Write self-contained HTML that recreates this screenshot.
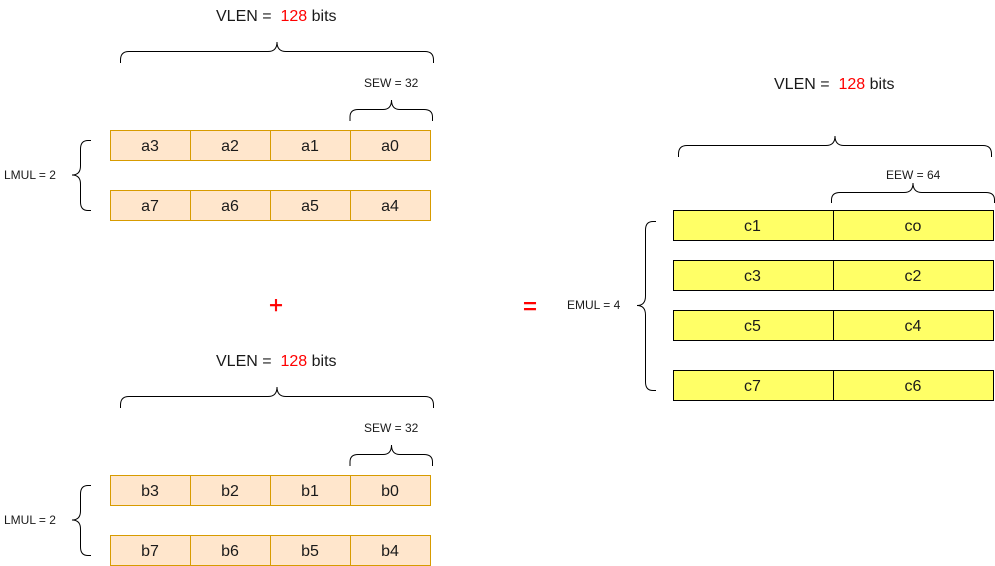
<!DOCTYPE html>
<html><head><meta charset="utf-8"><style>
html,body{margin:0;padding:0;background:#fff}
svg{display:block}
text{font-family:"Liberation Sans",sans-serif;fill:#000;white-space:pre}
.c{font-size:16px;text-anchor:middle;fill:#1a1a1a}
.s{font-size:12px;fill:#1a1a1a}
.v{font-size:16px;fill:#1a1a1a}
.r{fill:#f00}
.o rect,.o line{fill:#ffe6cc;stroke:#d79b00;stroke-width:1}
.y rect,.y line{fill:#ffff66;stroke:#000;stroke-width:1}
.b{fill:none;stroke:#000;stroke-width:1}
</style></head><body>
<svg width="995" height="566" viewBox="0 0 995 566" xmlns="http://www.w3.org/2000/svg">
<rect width="995" height="566" fill="#fff"/>

<text class="v" x="216" y="21">VLEN =  <tspan class="r">128</tspan> bits</text>
<path class="b" d="M120.5 63V60Q120.5 51.5 129 51.5H268Q277 51.5 277 42Q277 51.5 286 51.5H425Q433.5 51.5 433.5 60V63"/>
<text class="s" x="364" y="87">SEW = 32</text>
<path class="b" d="M350 121V117Q350 109.5 358 109.5H383Q391.5 109.5 391.5 100Q391.5 109.5 400 109.5H424Q432.5 109.5 432.5 117V121"/>
<g class="o">
<rect x="110.5" y="130.5" width="80" height="30"/><rect x="190.5" y="130.5" width="80" height="30"/><rect x="270.5" y="130.5" width="80" height="30"/><rect x="350.5" y="130.5" width="80" height="30"/>
<rect x="110.5" y="190.5" width="80" height="30"/><rect x="190.5" y="190.5" width="80" height="30"/><rect x="270.5" y="190.5" width="80" height="30"/><rect x="350.5" y="190.5" width="80" height="30"/>
</g>
<text class="c" x="150" y="151">a3</text><text class="c" x="230" y="151">a2</text><text class="c" x="310" y="151">a1</text><text class="c" x="390" y="151">a0</text>
<text class="c" x="150" y="211">a7</text><text class="c" x="230" y="211">a6</text><text class="c" x="310" y="211">a5</text><text class="c" x="390" y="211">a4</text>
<text class="s" x="4" y="179">LMUL = 2</text>
<path class="b" d="M91 140.5H88Q80.5 140.5 80.5 149V166Q80.5 175 72 175Q80.5 175 80.5 184V202Q80.5 210.5 88 210.5H91"/>

<text x="276" y="313" font-size="24" text-anchor="middle" style="fill:#f00;stroke:#f00;stroke-width:.4">+</text>

<text class="v" x="216" y="366">VLEN =  <tspan class="r">128</tspan> bits</text>
<path class="b" d="M120.5 408V405Q120.5 396.5 129 396.5H268Q277 396.5 277 387Q277 396.5 286 396.5H425Q433.5 396.5 433.5 405V408"/>
<text class="s" x="364" y="432">SEW = 32</text>
<path class="b" d="M350 466V462Q350 454.5 358 454.5H383Q391.5 454.5 391.5 445Q391.5 454.5 400 454.5H424Q432.5 454.5 432.5 462V466"/>
<g class="o">
<rect x="110.5" y="475.5" width="80" height="30"/><rect x="190.5" y="475.5" width="80" height="30"/><rect x="270.5" y="475.5" width="80" height="30"/><rect x="350.5" y="475.5" width="80" height="30"/>
<rect x="110.5" y="535.5" width="80" height="30"/><rect x="190.5" y="535.5" width="80" height="30"/><rect x="270.5" y="535.5" width="80" height="30"/><rect x="350.5" y="535.5" width="80" height="30"/>
</g>
<text class="c" x="150" y="496">b3</text><text class="c" x="230" y="496">b2</text><text class="c" x="310" y="496">b1</text><text class="c" x="390" y="496">b0</text>
<text class="c" x="150" y="556">b7</text><text class="c" x="230" y="556">b6</text><text class="c" x="310" y="556">b5</text><text class="c" x="390" y="556">b4</text>
<text class="s" x="4" y="524">LMUL = 2</text>
<path class="b" d="M91 485.5H88Q80.5 485.5 80.5 494V511Q80.5 520 72 520Q80.5 520 80.5 529V547Q80.5 555.5 88 555.5H91"/>

<text x="530" y="314" font-size="24" text-anchor="middle" style="fill:#f00;stroke:#f00;stroke-width:.4">=</text>

<text class="v" x="774" y="89">VLEN =  <tspan class="r">128</tspan> bits</text>
<path class="b" d="M678.5 157V154Q678.5 145.5 687 145.5H826Q835 145.5 835 136Q835 145.5 844 145.5H983Q991.5 145.5 991.5 154V157"/>
<text class="s" x="886" y="179">EEW = 64</text>
<path class="b" d="M831.5 203V200Q831.5 192.5 840 192.5H904Q913 192.5 913 183Q913 192.5 922 192.5H986Q994.5 192.5 994.5 200V203"/>
<g class="y">
<rect x="673.5" y="210.5" width="160" height="30"/><rect x="833.5" y="210.5" width="160" height="30"/>
<rect x="673.5" y="260.5" width="160" height="30"/><rect x="833.5" y="260.5" width="160" height="30"/>
<rect x="673.5" y="310.5" width="160" height="30"/><rect x="833.5" y="310.5" width="160" height="30"/>
<rect x="673.5" y="370.5" width="160" height="30"/><rect x="833.5" y="370.5" width="160" height="30"/>
</g>
<text class="c" x="752.5" y="231">c1</text><text class="c" x="913" y="231">co</text>
<text class="c" x="752.5" y="281">c3</text><text class="c" x="913" y="281">c2</text>
<text class="c" x="752.5" y="331">c5</text><text class="c" x="913" y="331">c4</text>
<text class="c" x="752.5" y="391">c7</text><text class="c" x="913" y="391">c6</text>
<text class="s" x="567" y="309">EMUL = 4</text>
<path class="b" d="M656 221.5H653Q645.5 221.5 645.5 230V296Q645.5 305.5 637 305.5Q645.5 305.5 645.5 315V382Q645.5 390.5 653 390.5H656"/>
</svg>
</body></html>
